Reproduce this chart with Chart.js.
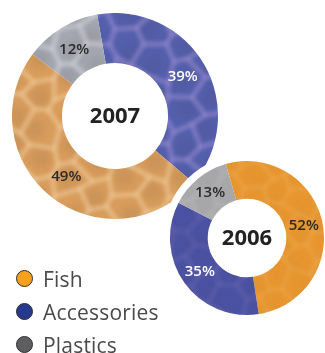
<!DOCTYPE html>
<html>
<head>
<meta charset="utf-8">
<script src="https://cdn.jsdelivr.net/npm/chart.js@4.4.1/dist/chart.umd.min.js"></script>
<style>
  html, body { margin: 0; padding: 0; background: #fff; }
  #wrap { position: relative; width: 325px; height: 353px; overflow: hidden; font-family: "Open Sans", sans-serif; }
  #c2007 { position: absolute; left: 12px; top: 13px; }
  #c2006 { position: absolute; left: 157px; top: 148px; }
  #legend { position: absolute; left: 16px; top: 262px; }
  .row { display: flex; align-items: center; height: 33px; }
  .dot { border-radius: 50%; border: 1.5px solid #2e2e2e; box-sizing: border-box; margin-right: 10px; width: 17px; height: 17px; }
  .lab { font-size: 21px; color: #4a4a4a; letter-spacing: 0.2px; }
</style>
</head>
<body>
<div id="wrap">
  <canvas id="c2007" width="206" height="206"></canvas>
  <canvas id="c2006" width="180" height="180"></canvas>
  <div id="legend"></div>
</div>
<script>
// product categories and legend swatches
const categories = ['Fish', 'Accessories', 'Plastics'];
const legendColors = ['#f5a11c', '#253a8e', '#5e5e60'];

// sales share by year (%), in clockwise drawing order
const labels2007 = ['Accessories', 'Fish', 'Plastics'];
const values2007 = [39, 49, 12];
const labels2006 = ['Fish', 'Accessories', 'Plastics'];
const values2006 = [52, 35, 13];

// ring tints per category, plus the colour of the ripple highlights
const tint2007 = { Fish: '#d99d5c', Accessories: '#5460ad', Plastics: '#a5a7b1' };
const tint2006 = { Fish: '#e8962f', Accessories: '#4c52a3', Plastics: '#a9a9ab' };
const rim = { Fish: '255,235,200', Accessories: '200,170,230', Plastics: '245,245,250' };
const textColor = { Fish: '#2b2b2b', Accessories: '#ffffff', Plastics: '#2b2b2b' };

// wobbly cell net over a flat colour, sized to the whole canvas so it never tiles
function ripple(base, rimRgb, size, strength, cell) {
  const c = document.createElement('canvas');
  c.width = size; c.height = size;
  const g = c.getContext('2d');
  g.fillStyle = base;
  g.fillRect(0, 0, size, size);
  const r = cell;
  const dy = r * Math.sqrt(3) / 2;
  const warp = (x, y) => [
    x + 3.5 * Math.sin(x * 0.11 + y * 0.07) + 2 * Math.cos(y * 0.19),
    y + 3.5 * Math.cos(x * 0.09 - y * 0.12) + 2 * Math.sin(x * 0.17)
  ];
  const cells = [];
  for (let col = -1; col * r * 1.5 < size + r; col++) {
    for (let row = -1; row * dy * 2 < size + r; row++) {
      cells.push([col * r * 1.5, row * dy * 2 + (col % 2 ? dy : 0)]);
    }
  }
  // darker cell hearts
  g.filter = 'blur(4px)';
  g.fillStyle = 'rgba(60,40,40,' + (strength * 0.35) + ')';
  cells.forEach(([cx, cy]) => {
    const [x, y] = warp(cx, cy);
    g.beginPath();
    g.arc(x, y + 2, r * 0.5, 0, Math.PI * 2);
    g.fill();
  });
  // bright rims
  g.filter = 'blur(2.2px)';
  g.strokeStyle = 'rgba(' + rimRgb + ',' + strength + ')';
  g.lineWidth = 3.5;
  cells.forEach(([cx, cy]) => {
    g.beginPath();
    for (let k = 0; k <= 6; k++) {
      const a = Math.PI / 3 * k;
      const [px, py] = warp(cx + r * Math.cos(a), cy + r * Math.sin(a));
      if (k === 0) g.moveTo(px, py); else g.lineTo(px, py);
    }
    g.stroke();
  });
  return c;
}

function fills(labels, tint, strength, cell, ctx) {
  const size = ctx.canvas.width;
  return labels.map(l => ctx.createPattern(ripple(tint[l], rim[l], size, strength, cell), 'no-repeat'));
}

// percentage labels and the year in the hole
const ringText = {
  id: 'ringText',
  afterDatasetsDraw(chart, args, opts) {
    const ctx = chart.ctx;
    const meta = chart.getDatasetMeta(0);
    const labels = chart.data.labels;
    const vals = chart.data.datasets[0].data;
    ctx.save();
    ctx.textAlign = 'center';
    ctx.textBaseline = 'middle';
    meta.data.forEach((arc, i) => {
      const p = arc.getProps(['x', 'y', 'startAngle', 'endAngle', 'innerRadius', 'outerRadius']);
      const a = (p.startAngle + p.endAngle) / 2;
      const r = (p.innerRadius + p.outerRadius) / 2;
      ctx.font = '600 15px "Open Sans"';
      ctx.fillStyle = textColor[labels[i]];
      ctx.fillText(vals[i] + '%', p.x + Math.cos(a) * r, p.y + Math.sin(a) * r);
    });
    const c = meta.data[0];
    ctx.font = 'bold ' + opts.size + 'px "Open Sans"';
    ctx.fillStyle = '#222';
    ctx.fillText(opts.year, c.x, c.y + 1);
    ctx.restore();
  }
};

// white halo separating the smaller ring from the larger one
const halo = {
  id: 'halo',
  beforeDatasetsDraw(chart, args, opts) {
    if (!opts.width) return;
    const arc = chart.getDatasetMeta(0).data[0];
    const ctx = chart.ctx;
    ctx.save();
    ctx.fillStyle = '#fff';
    ctx.beginPath();
    ctx.arc(arc.x, arc.y, arc.outerRadius + opts.width, 0, Math.PI * 2);
    ctx.fill();
    ctx.restore();
  }
};

function donut(id, labels, values, tint, strength, cell, rotation, cutout, radius, year, halow) {
  const ctx = document.getElementById(id).getContext('2d');
  return new Chart(ctx, {
    type: 'doughnut',
    data: {
      labels: labels,
      datasets: [{
        data: values,
        backgroundColor: fills(labels, tint, strength, cell, ctx),
        borderWidth: 0,
        hoverOffset: 0
      }]
    },
    options: {
      responsive: false,
      animation: false,
      rotation: rotation,
      cutout: cutout,
      radius: radius,
      layout: { padding: 0 },
      plugins: {
        legend: { display: false },
        tooltip: { enabled: false },
        ringText: { year: year, size: 22 },
        halo: { width: halow }
      },
      events: []
    },
    plugins: [halo, ringText]
  });
}

donut('c2007', labels2007, values2007, tint2007, 0.26, 19, -10, '51.5%', 103, '2007', 0);
donut('c2006', labels2006, values2006, tint2006, 0.07, 16, -16, '51%', 77, '2006', 7);

// legend
const legend = document.getElementById('legend');
categories.forEach((name, i) => {
  const row = document.createElement('div');
  row.className = 'row';
  const dot = document.createElement('span');
  dot.className = 'dot';
  dot.style.background = legendColors[i];
  const lab = document.createElement('span');
  lab.className = 'lab';
  lab.textContent = name;
  row.appendChild(dot);
  row.appendChild(lab);
  legend.appendChild(row);
});
</script>
</body>
</html>
